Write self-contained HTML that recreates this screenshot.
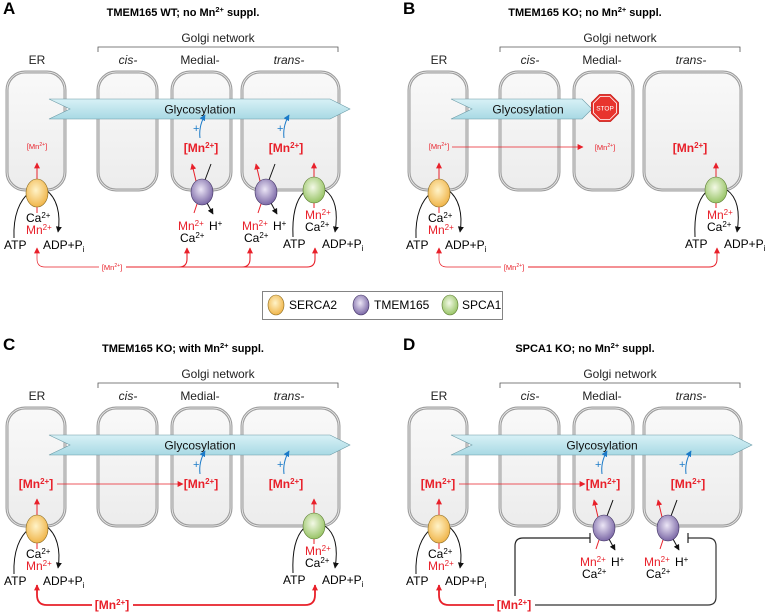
<!DOCTYPE html>
<html><head><meta charset="utf-8"><style>
html,body{margin:0;padding:0;background:#fff;}
svg{display:block;font-family:"Liberation Sans",Arial,sans-serif;}
</style></head><body>
<svg width="766" height="612" viewBox="0 0 766 612" xmlns="http://www.w3.org/2000/svg">
<defs>
<linearGradient id="boxg" x1="0" y1="0" x2="0" y2="1"><stop offset="0" stop-color="#f9f9f9"/><stop offset="1" stop-color="#ececec"/></linearGradient>
<linearGradient id="gly" x1="0" y1="0" x2="0" y2="1"><stop offset="0" stop-color="#d8f1f6"/><stop offset="1" stop-color="#a8d9e4"/></linearGradient>
<radialGradient id="yel" cx="0.45" cy="0.4" r="0.6"><stop offset="0" stop-color="#fff3c8"/><stop offset="1" stop-color="#f0b54a"/></radialGradient>
<radialGradient id="pur" cx="0.45" cy="0.4" r="0.6"><stop offset="0" stop-color="#ece6f6"/><stop offset="1" stop-color="#7b68a6"/></radialGradient>
<radialGradient id="grn" cx="0.45" cy="0.4" r="0.6"><stop offset="0" stop-color="#f3f9e6"/><stop offset="1" stop-color="#98c466"/></radialGradient>
<marker id="aR" viewBox="0 0 10 10" refX="9" refY="5" markerWidth="6" markerHeight="6" markerUnits="userSpaceOnUse" orient="auto"><path d="M0,0L10,5L0,10z" fill="#e8202a"/></marker>
<marker id="aK" viewBox="0 0 10 10" refX="9" refY="5" markerWidth="6" markerHeight="6" markerUnits="userSpaceOnUse" orient="auto"><path d="M0,0L10,5L0,10z" fill="#111"/></marker>
<marker id="aB" viewBox="0 0 10 10" refX="9" refY="5" markerWidth="6" markerHeight="6" markerUnits="userSpaceOnUse" orient="auto"><path d="M0,0L10,5L0,10z" fill="#1a7ac8"/></marker>
<g id="boxes">
<path d="M98,52V47H338V52" fill="none" stroke="#555" stroke-width="0.8"/>
<rect x="7" y="72" width="58" height="118" rx="18" fill="url(#boxg)" stroke="#9c9c9c" stroke-width="3"/>
<rect x="7" y="72" width="58" height="118" rx="18" fill="none" stroke="#f2f2f2" stroke-width="0.8"/>
<rect x="98" y="72" width="59" height="118" rx="18" fill="url(#boxg)" stroke="#9c9c9c" stroke-width="3"/>
<rect x="98" y="72" width="59" height="118" rx="18" fill="none" stroke="#f2f2f2" stroke-width="0.8"/>
<rect x="172" y="72" width="59" height="118" rx="18" fill="url(#boxg)" stroke="#9c9c9c" stroke-width="3"/>
<rect x="172" y="72" width="59" height="118" rx="18" fill="none" stroke="#f2f2f2" stroke-width="0.8"/>
<rect x="242" y="72" width="97" height="118" rx="18" fill="url(#boxg)" stroke="#9c9c9c" stroke-width="3"/>
<rect x="242" y="72" width="97" height="118" rx="18" fill="none" stroke="#f2f2f2" stroke-width="0.8"/>
</g>
<g id="serca">
<path d="M14,238C13,215 20,200 29,193" fill="none" stroke="#111" stroke-width="1"/>
<path d="M46,190C57,198 61,214 58,232" fill="none" stroke="#111" stroke-width="1" marker-end="url(#aK)"/>
<path d="M37,181V163" stroke="#e8202a" stroke-width="1" marker-end="url(#aR)"/>
<path d="M37,206V213" stroke="#e8202a" stroke-width="1"/>
<ellipse cx="37" cy="193" rx="11" ry="14" fill="url(#yel)" stroke="#8a6a20" stroke-width="0.6"/>
</g>
<g id="spca">
<path d="M293,237C292,215 296,200 304,192" fill="none" stroke="#111" stroke-width="1"/>
<path d="M325,190C336,198 338,214 335,232" fill="none" stroke="#111" stroke-width="1" marker-end="url(#aK)"/>
<path d="M314,178V163" stroke="#e8202a" stroke-width="1" marker-end="url(#aR)"/>
<path d="M314,202V208" stroke="#e8202a" stroke-width="1"/>
<ellipse cx="314" cy="190" rx="11" ry="13" fill="url(#grn)" stroke="#5a7a30" stroke-width="0.6"/>
</g>
<g id="tmem">
<path d="M196,181L192,164" stroke="#e8202a" stroke-width="1" marker-end="url(#aR)"/>
<path d="M197,204L194,213" stroke="#e8202a" stroke-width="1"/>
<path d="M211,164L205,180" stroke="#111" stroke-width="1"/>
<path d="M207,203L213,214" stroke="#111" stroke-width="1" marker-end="url(#aK)"/>
<ellipse cx="202" cy="192" rx="11" ry="13" fill="url(#pur)" stroke="#3e3060" stroke-width="0.6"/>
</g>
<g id="blue">
<path d="M200,138C199,130 201,122 205,115" fill="none" stroke="#1a7ac8" stroke-width="1" marker-end="url(#aB)"/>
</g>
</defs>

<g font-size="12">
<!-- ============ PANEL A ============ -->
<g>
<text x="3" y="14" font-size="17" font-weight="bold">A</text>
<text x="183" y="16" font-size="11" font-weight="bold" text-anchor="middle">TMEM165 WT; no Mn<tspan font-size="7.5" dy="-4">2+</tspan><tspan dy="4"> suppl.</tspan></text>
<text x="218" y="42" text-anchor="middle" fill="#222">Golgi network</text>
<text x="37" y="64" text-anchor="middle" fill="#222">ER</text>
<text x="128" y="64" text-anchor="middle" font-style="italic" fill="#222">cis-</text>
<text x="200" y="64" text-anchor="middle" fill="#222">Medial-</text>
<text x="289" y="64" text-anchor="middle" font-style="italic" fill="#222">trans-</text>
<use href="#boxes"/>
<path d="M49,99H330L350,109L330,119H49L70,109Z" fill="url(#gly)" stroke="#6a9aa6" stroke-width="0.6"/>
<text x="200" y="113.5" text-anchor="middle" fill="#111">Glycosylation</text>
<text x="37" y="149" font-size="7.5" text-anchor="middle" fill="#e8202a">[Mn<tspan font-size="5" dy="-3">2+</tspan><tspan dy="3">]</tspan></text>
<text x="193" y="132" font-size="11" fill="#1a7ac8">+</text><use href="#blue"/>
<text x="277" y="132" font-size="11" fill="#1a7ac8">+</text><use href="#blue" transform="translate(84,0)"/>
<text x="201" y="152" font-weight="bold" text-anchor="middle" fill="#e8202a">[Mn<tspan font-size="8" dy="-4">2+</tspan><tspan dy="4">]</tspan></text>
<text x="286" y="152" font-weight="bold" text-anchor="middle" fill="#e8202a">[Mn<tspan font-size="8" dy="-4">2+</tspan><tspan dy="4">]</tspan></text>
<use href="#serca"/>
<text x="26" y="222">Ca<tspan font-size="8" dy="-4">2+</tspan></text>
<text x="26" y="234" fill="#e8202a">Mn<tspan font-size="8" dy="-4">2+</tspan></text>
<text x="4" y="249">ATP</text>
<text x="43" y="249">ADP+P<tspan font-size="8" dy="3">i</tspan></text>
<use href="#tmem"/><use href="#tmem" transform="translate(64,0)"/>
<text x="178" y="230" fill="#e8202a">Mn<tspan font-size="8" dy="-4">2+</tspan></text>
<text x="209" y="230">H<tspan font-size="8" dy="-4">+</tspan></text>
<text x="180" y="242">Ca<tspan font-size="8" dy="-4">2+</tspan></text>
<text x="242" y="230" fill="#e8202a">Mn<tspan font-size="8" dy="-4">2+</tspan></text>
<text x="273" y="230">H<tspan font-size="8" dy="-4">+</tspan></text>
<text x="244" y="242">Ca<tspan font-size="8" dy="-4">2+</tspan></text>
<use href="#spca"/>
<text x="305" y="219" fill="#e8202a">Mn<tspan font-size="8" dy="-4">2+</tspan></text>
<text x="305" y="231">Ca<tspan font-size="8" dy="-4">2+</tspan></text>
<text x="283" y="248">ATP</text>
<text x="322" y="248">ADP+P<tspan font-size="8" dy="3">i</tspan></text>
<path d="M99,267H45Q37,267 37,259V248" fill="none" stroke="#e8202a" stroke-width="0.7" marker-end="url(#aR)"/>
<text x="112" y="270" font-size="7.5" text-anchor="middle" fill="#e8202a">[Mn<tspan font-size="5" dy="-3">2+</tspan><tspan dy="3">]</tspan></text>
<path d="M126,267H307Q315,267 315,259V248" fill="none" stroke="#e8202a" stroke-width="1.1" marker-end="url(#aR)"/>
<path d="M179,267Q187,267 187,259V248" fill="none" stroke="#e8202a" stroke-width="1.1" marker-end="url(#aR)"/>
<path d="M242,267Q250,267 250,259V248" fill="none" stroke="#e8202a" stroke-width="1.1" marker-end="url(#aR)"/>
</g>

<!-- ============ PANEL B ============ -->
<g transform="translate(402,0)">
<text x="1" y="14" font-size="17" font-weight="bold">B</text>
<text x="183" y="16" font-size="11" font-weight="bold" text-anchor="middle">TMEM165 KO; no Mn<tspan font-size="7.5" dy="-4">2+</tspan><tspan dy="4"> suppl.</tspan></text>
<text x="218" y="42" text-anchor="middle" fill="#222">Golgi network</text>
<text x="37" y="64" text-anchor="middle" fill="#222">ER</text>
<text x="128" y="64" text-anchor="middle" font-style="italic" fill="#222">cis-</text>
<text x="200" y="64" text-anchor="middle" fill="#222">Medial-</text>
<text x="289" y="64" text-anchor="middle" font-style="italic" fill="#222">trans-</text>
<use href="#boxes"/>
<path d="M49,99H180L190,109L180,119H49L70,109Z" fill="url(#gly)" stroke="#6a9aa6" stroke-width="0.6"/>
<text x="126" y="113.5" text-anchor="middle" fill="#111">Glycosylation</text>
<polygon points="197.5,94.5 208.5,94.5 216.5,102.5 216.5,113.5 208.5,121.5 197.5,121.5 189.5,113.5 189.5,102.5" fill="#e8342e" stroke="#c41a16" stroke-width="0.8"/>
<polygon points="198.2,96.5 207.8,96.5 214.5,103.2 214.5,112.8 207.8,119.5 198.2,119.5 191.5,112.8 191.5,103.2" fill="none" stroke="#fff" stroke-width="0.8"/>
<text x="203" y="110.5" font-size="6.5" text-anchor="middle" fill="#fff">STOP</text>
<text x="37" y="149" font-size="7.5" text-anchor="middle" fill="#e8202a">[Mn<tspan font-size="5" dy="-3">2+</tspan><tspan dy="3">]</tspan></text>
<path d="M50,147H181" stroke="#e8202a" stroke-width="0.7" marker-end="url(#aR)"/>
<text x="203" y="150" font-size="7.5" text-anchor="middle" fill="#e8202a">[Mn<tspan font-size="5" dy="-3">2+</tspan><tspan dy="3">]</tspan></text>
<text x="288" y="152" font-weight="bold" text-anchor="middle" fill="#e8202a">[Mn<tspan font-size="8" dy="-4">2+</tspan><tspan dy="4">]</tspan></text>
<use href="#serca"/>
<text x="26" y="222">Ca<tspan font-size="8" dy="-4">2+</tspan></text>
<text x="26" y="234" fill="#e8202a">Mn<tspan font-size="8" dy="-4">2+</tspan></text>
<text x="4" y="249">ATP</text>
<text x="43" y="249">ADP+P<tspan font-size="8" dy="3">i</tspan></text>
<use href="#spca"/>
<text x="305" y="219" fill="#e8202a">Mn<tspan font-size="8" dy="-4">2+</tspan></text>
<text x="305" y="231">Ca<tspan font-size="8" dy="-4">2+</tspan></text>
<text x="283" y="248">ATP</text>
<text x="322" y="248">ADP+P<tspan font-size="8" dy="3">i</tspan></text>
<path d="M99,267H45Q37,267 37,259V248" fill="none" stroke="#e8202a" stroke-width="0.7" marker-end="url(#aR)"/>
<text x="112" y="270" font-size="7.5" text-anchor="middle" fill="#e8202a">[Mn<tspan font-size="5" dy="-3">2+</tspan><tspan dy="3">]</tspan></text>
<path d="M126,267H307Q315,267 315,259V248" fill="none" stroke="#e8202a" stroke-width="1" marker-end="url(#aR)"/>
</g>

<!-- ============ LEGEND ============ -->
<rect x="262.5" y="291.5" width="240" height="28" fill="#fff" stroke="#666" stroke-width="0.8"/>
<ellipse cx="276" cy="305" rx="8" ry="10" fill="url(#yel)" stroke="#8a6a20" stroke-width="0.6"/>
<text x="289" y="309">SERCA2</text>
<ellipse cx="361" cy="305" rx="8" ry="10" fill="url(#pur)" stroke="#3e3060" stroke-width="0.6"/>
<text x="374" y="309">TMEM165</text>
<ellipse cx="450" cy="305" rx="8" ry="10" fill="url(#grn)" stroke="#5a7a30" stroke-width="0.6"/>
<text x="462" y="309">SPCA1</text>

<!-- ============ PANEL C ============ -->
<g transform="translate(0,336)">
<text x="3" y="14" font-size="17" font-weight="bold">C</text>
<text x="183" y="16" font-size="11" font-weight="bold" text-anchor="middle">TMEM165 KO; with Mn<tspan font-size="7.5" dy="-4">2+</tspan><tspan dy="4"> suppl.</tspan></text>
<text x="218" y="42" text-anchor="middle" fill="#222">Golgi network</text>
<text x="37" y="64" text-anchor="middle" fill="#222">ER</text>
<text x="128" y="64" text-anchor="middle" font-style="italic" fill="#222">cis-</text>
<text x="200" y="64" text-anchor="middle" fill="#222">Medial-</text>
<text x="289" y="64" text-anchor="middle" font-style="italic" fill="#222">trans-</text>
<use href="#boxes"/>
<path d="M49,99H330L350,109L330,119H49L70,109Z" fill="url(#gly)" stroke="#6a9aa6" stroke-width="0.6"/>
<text x="200" y="113.5" text-anchor="middle" fill="#111">Glycosylation</text>
<text x="193" y="132" font-size="11" fill="#1a7ac8">+</text><use href="#blue"/>
<text x="277" y="132" font-size="11" fill="#1a7ac8">+</text><use href="#blue" transform="translate(84,0)"/>
<text x="36" y="152" font-weight="bold" text-anchor="middle" fill="#e8202a">[Mn<tspan font-size="8" dy="-4">2+</tspan><tspan dy="4">]</tspan></text>
<path d="M57,148H183" stroke="#e8202a" stroke-width="0.8" marker-end="url(#aR)"/>
<text x="201" y="152" font-weight="bold" text-anchor="middle" fill="#e8202a">[Mn<tspan font-size="8" dy="-4">2+</tspan><tspan dy="4">]</tspan></text>
<text x="286" y="152" font-weight="bold" text-anchor="middle" fill="#e8202a">[Mn<tspan font-size="8" dy="-4">2+</tspan><tspan dy="4">]</tspan></text>
<use href="#serca"/>
<text x="26" y="222">Ca<tspan font-size="8" dy="-4">2+</tspan></text>
<text x="26" y="234" fill="#e8202a">Mn<tspan font-size="8" dy="-4">2+</tspan></text>
<text x="4" y="249">ATP</text>
<text x="43" y="249">ADP+P<tspan font-size="8" dy="3">i</tspan></text>
<use href="#spca"/>
<text x="305" y="219" fill="#e8202a">Mn<tspan font-size="8" dy="-4">2+</tspan></text>
<text x="305" y="231">Ca<tspan font-size="8" dy="-4">2+</tspan></text>
<text x="283" y="248">ATP</text>
<text x="322" y="248">ADP+P<tspan font-size="8" dy="3">i</tspan></text>
<path d="M92,269H47Q37,269 37,259V249" fill="none" stroke="#e8202a" stroke-width="1.8" marker-end="url(#aR)"/>
<text x="112" y="273" font-weight="bold" text-anchor="middle" fill="#e8202a">[Mn<tspan font-size="8" dy="-4">2+</tspan><tspan dy="4">]</tspan></text>
<path d="M133,269H305Q315,269 315,259V249" fill="none" stroke="#e8202a" stroke-width="1.8" marker-end="url(#aR)"/>
</g>

<!-- ============ PANEL D ============ -->
<g transform="translate(402,336)">
<text x="1" y="14" font-size="17" font-weight="bold">D</text>
<text x="183" y="16" font-size="11" font-weight="bold" text-anchor="middle">SPCA1 KO; no Mn<tspan font-size="7.5" dy="-4">2+</tspan><tspan dy="4"> suppl.</tspan></text>
<text x="218" y="42" text-anchor="middle" fill="#222">Golgi network</text>
<text x="37" y="64" text-anchor="middle" fill="#222">ER</text>
<text x="128" y="64" text-anchor="middle" font-style="italic" fill="#222">cis-</text>
<text x="200" y="64" text-anchor="middle" fill="#222">Medial-</text>
<text x="289" y="64" text-anchor="middle" font-style="italic" fill="#222">trans-</text>
<use href="#boxes"/>
<path d="M49,99H330L350,109L330,119H49L70,109Z" fill="url(#gly)" stroke="#6a9aa6" stroke-width="0.6"/>
<text x="200" y="113.5" text-anchor="middle" fill="#111">Glycosylation</text>
<text x="193" y="132" font-size="11" fill="#1a7ac8">+</text><use href="#blue"/>
<text x="277" y="132" font-size="11" fill="#1a7ac8">+</text><use href="#blue" transform="translate(84,0)"/>
<text x="36" y="152" font-weight="bold" text-anchor="middle" fill="#e8202a">[Mn<tspan font-size="8" dy="-4">2+</tspan><tspan dy="4">]</tspan></text>
<path d="M57,148H183" stroke="#e8202a" stroke-width="0.8" marker-end="url(#aR)"/>
<text x="201" y="152" font-weight="bold" text-anchor="middle" fill="#e8202a">[Mn<tspan font-size="8" dy="-4">2+</tspan><tspan dy="4">]</tspan></text>
<text x="286" y="152" font-weight="bold" text-anchor="middle" fill="#e8202a">[Mn<tspan font-size="8" dy="-4">2+</tspan><tspan dy="4">]</tspan></text>
<use href="#serca"/>
<text x="26" y="222">Ca<tspan font-size="8" dy="-4">2+</tspan></text>
<text x="26" y="234" fill="#e8202a">Mn<tspan font-size="8" dy="-4">2+</tspan></text>
<text x="4" y="249">ATP</text>
<text x="43" y="249">ADP+P<tspan font-size="8" dy="3">i</tspan></text>
<use href="#tmem"/><use href="#tmem" transform="translate(64,0)"/>
<text x="178" y="230" fill="#e8202a">Mn<tspan font-size="8" dy="-4">2+</tspan></text>
<text x="209" y="230">H<tspan font-size="8" dy="-4">+</tspan></text>
<text x="180" y="242">Ca<tspan font-size="8" dy="-4">2+</tspan></text>
<text x="242" y="230" fill="#e8202a">Mn<tspan font-size="8" dy="-4">2+</tspan></text>
<text x="273" y="230">H<tspan font-size="8" dy="-4">+</tspan></text>
<text x="244" y="242">Ca<tspan font-size="8" dy="-4">2+</tspan></text>
<path d="M113,260V210Q113,202 121,202H188" fill="none" stroke="#222" stroke-width="1.2"/>
<path d="M188,197V207" stroke="#222" stroke-width="1.2"/>
<path d="M133,269H306Q314,269 314,261V210Q314,202 306,202H286" fill="none" stroke="#333" stroke-width="1.2"/>
<path d="M286,197V207" stroke="#222" stroke-width="1.2"/>
<path d="M92,269H47Q37,269 37,259V249" fill="none" stroke="#e8202a" stroke-width="1.8" marker-end="url(#aR)"/>
<text x="112" y="273" font-weight="bold" text-anchor="middle" fill="#e8202a">[Mn<tspan font-size="8" dy="-4">2+</tspan><tspan dy="4">]</tspan></text>
</g>
</g>
</svg>
</body></html>
